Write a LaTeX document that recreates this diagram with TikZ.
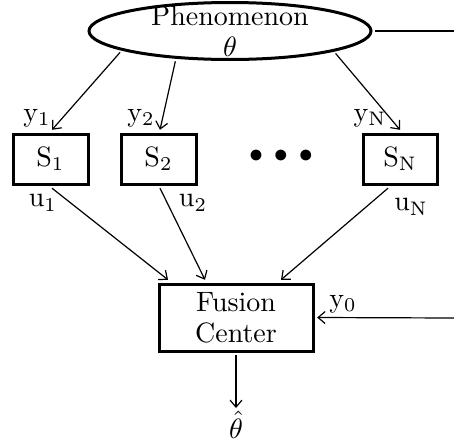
\RequirePackage{fix-cm}
\documentclass[tikz,border=0pt]{standalone}
\usetikzlibrary{arrows.meta,shapes.geometric,calc}
\begin{document}
\begin{tikzpicture}[x=1pt,y=1pt,
  every node/.style={font=\fontsize{10}{11}\selectfont,scale=2.8},
  bigbox/.style={draw,line width=3pt,rectangle,inner sep=0pt},
  lbl/.style={inner sep=0pt},
  conn/.style={line width=1.2pt,-{Straight Barb[length=7pt,width=12pt,line width=1.2pt]}},
  plain/.style={line width=1.2pt}]
\useasboundingbox (0,0) rectangle (454,-447);
\node[draw,ellipse,line width=3pt,minimum width={282pt/2.8},minimum height={57pt/2.8},inner xsep=0pt,inner ysep=-2.5pt,align=center] (phen) at (230,-31) {Phenomenon\\$\theta$};
\node[bigbox,minimum width={75pt/2.8},minimum height={50pt/2.8}] (s1) at (50.5,-159) {$\mathrm{S}_1$};
\node[bigbox,minimum width={75pt/2.8},minimum height={50pt/2.8}] (s2) at (158.5,-159) {$\mathrm{S}_2$};
\node[bigbox,minimum width={74pt/2.8},minimum height={50pt/2.8}] (sN) at (400,-159) {$\mathrm{S}_\mathrm{N}$};
\node[lbl] (dots) at (281,-156) {$\bullet\,\bullet\,\bullet$};
\node[bigbox,minimum width={154pt/2.8},minimum height={67pt/2.8},align=center] (fc) at (236,-317.5) {Fusion\\Center};
\node[inner sep=1pt,anchor=north] (th) at (236,-408) {$\hat{\theta}$};
\coordinate (re1) at (454,-31);
\coordinate (re2) at (454,-318);
\node[lbl] (ly1) at (37,-118) {$\mathrm{y}_1$};
\node[lbl] (ly2) at (141,-118) {$\mathrm{y}_2$};
\node[lbl] (lyN) at (370,-118) {$\mathrm{y}_\mathrm{N}$};
\node[lbl] (lu1) at (43,-203) {$\mathrm{u}_1$};
\node[lbl] (lu2) at (193,-203) {$\mathrm{u}_2$};
\node[lbl] (luN) at (411,-207) {$\mathrm{u}_\mathrm{N}$};
\node[lbl] (ly0) at (343,-304) {$\mathrm{y}_0$};
\draw[conn] (phen.191.6) -- ([xshift=1.5pt]s1.north);
\draw[conn] (phen.209.2) -- ([xshift=1.5pt]s2.north);
\draw[conn] (phen.348.3) -- (sN.north);
\draw[conn] ([xshift=1.5pt]s1.south) -- ([xshift=-68pt]fc.north);
\draw[conn] ([xshift=1.5pt]s2.south) -- ([xshift=-31pt]fc.north);
\draw[conn] ([xshift=-12pt]sN.south) -- ([xshift=45pt]fc.north);
\draw[plain] (phen.east) -- (re1);
\draw[conn] (re2) -- (fc.east);
\draw[conn] (fc.south) -- (th.north);
\end{tikzpicture}
\end{document}
